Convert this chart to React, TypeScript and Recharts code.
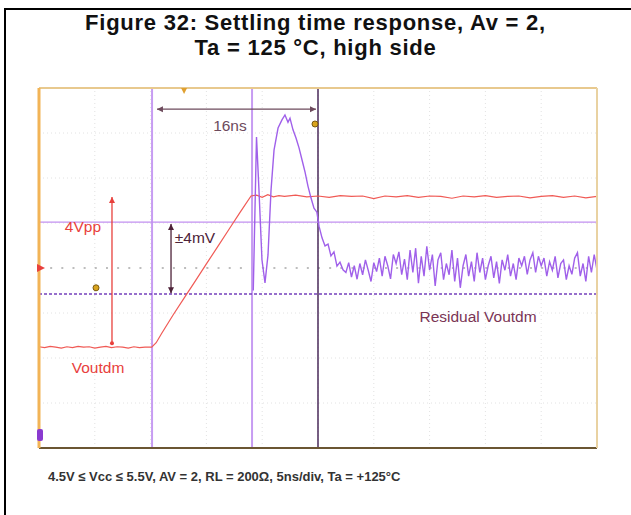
import {
  ComposedChart,
  Line,
  ReferenceDot,
  ReferenceLine,
  XAxis,
  YAxis,
} from "recharts";

// scope screen: 10 horizontal divisions of 5 ns, 8 vertical divisions
const xDomain: [number, number] = [0, 50];
const yDomain: [number, number] = [-4, 4];
const gridX = [5, 10, 15, 20, 25, 30, 35, 40, 45];
const gridY = [-3, -2, -1, 1, 2, 3];
const xMinorTicks = Array.from({ length: 51 }, (_, i) => i);
const yMinorTicks = Array.from({ length: 41 }, (_, i) => -4 + i * 0.2);

// Voutdm (red) trace, [time ns, divisions]
const voutdm: [number, number][] = [
  [0, -1.75], [0.5, -1.77], [1, -1.74], [1.5, -1.76], [2, -1.78], [2.5, -1.75],
  [3, -1.77], [3.5, -1.74], [4, -1.76], [4.5, -1.75], [5, -1.78], [5.5, -1.76],
  [6, -1.74], [6.5, -1.77], [7, -1.75], [7.5, -1.76], [8, -1.78], [8.5, -1.75],
  [9, -1.77], [9.5, -1.76], [10.1, -1.76], [10.5, -1.66], [11, -1.45],
  [12, -1.05], [13, -0.67], [14, -0.29], [15, 0.09], [16, 0.47], [17, 0.85],
  [18, 1.23], [19, 1.6], [19.5, 1.62], [20, 1.57], [20.5, 1.63], [21, 1.58],
  [21.5, 1.61], [22, 1.59], [23, 1.62], [24, 1.58], [25, 1.6], [26, 1.57],
  [27, 1.61], [28, 1.59], [29, 1.6], [30, 1.54], [31, 1.6], [32, 1.58],
  [33, 1.61], [34, 1.57], [35, 1.6], [36, 1.59], [37, 1.55], [38, 1.6],
  [39, 1.58], [40, 1.61], [41, 1.57], [42, 1.59], [43, 1.6], [44, 1.56],
  [45, 1.59], [46, 1.61], [47, 1.57], [48, 1.6], [49, 1.56], [50, 1.59],
];

// Residual Voutdm (purple) trace, [time ns, divisions]
const residual: [number, number][] = [
  [19.2, -0.5], [19.49, 2.91], [19.71, 1.73], [19.98, 0.18], [20.25, -0.33],
  [20.52, 0.29], [20.79, 1.73], [21.06, 2.62], [21.42, 3.11], [21.77, 3.29],
  [22.04, 3.4], [22.31, 3.24], [22.49, 3.33], [22.76, 3.07], [23.03, 2.89],
  [23.3, 2.67], [23.57, 2.4], [23.84, 2.13], [24.1, 1.82], [24.37, 1.56],
  [24.64, 1.33], [24.9, 1.24], [25.09, 0.93], [25.36, 0.67], [25.63, 0.49],
  [25.9, 0.53], [26.16, 0.27], [26.43, 0.36], [26.7, 0.04], [26.97, 0.13],
  [27.24, -0.04], [27.5, -0.1], [27.75, 0.12], [28, -0.2], [28.25, 0.05],
  [28.5, -0.25], [28.75, 0.1], [29, -0.15], [29.25, 0.18], [29.5, -0.05],
  [29.75, -0.3], [30, 0.12], [30.25, -0.08], [30.5, 0.22], [30.75, -0.18],
  [31, 0.26], [31.25, 0.05], [31.5, -0.24], [31.75, 0.3], [32, 0.1],
  [32.25, 0.36], [32.5, -0.15], [32.75, 0.2], [33, -0.26], [33.25, 0.4],
  [33.5, -0.1], [33.75, 0.44], [34, -0.34], [34.25, 0.26], [34.5, -0.18],
  [34.75, 0.48], [35, -0.05], [35.25, 0.3], [35.5, -0.4], [35.75, 0.18],
  [36, 0.34], [36.25, -0.26], [36.5, 0.1], [36.75, -0.15], [37, 0.4],
  [37.25, -0.3], [37.5, 0.22], [37.75, -0.44], [38, 0.05], [38.25, 0.3],
  [38.5, -0.18], [38.75, 0.14], [39, -0.3], [39.25, 0.34], [39.5, -0.1],
  [39.75, 0.22], [40, -0.26], [40.25, 0.05], [40.5, 0.26], [40.75, -0.22],
  [41, 0.14], [41.25, -0.34], [41.5, 0.18], [41.75, -0.05], [42, 0.3],
  [42.25, -0.18], [42.5, 0.1], [42.75, -0.26], [43, 0.22], [43.25, 0.05],
  [43.5, 0.26], [43.75, -0.14], [44, 0.18], [44.25, 0.34], [44.5, -0.1],
  [44.75, 0.26], [45, 0.05], [45.25, 0.22], [45.5, -0.18], [45.75, 0.14],
  [46, -0.05], [46.25, 0.26], [46.5, -0.22], [46.75, 0.1], [47, 0.18],
  [47.25, -0.26], [47.5, 0.05], [47.75, -0.14], [48, 0.22], [48.25, 0.34],
  [48.5, -0.18], [48.75, 0.1], [49, -0.3], [49.25, 0.26], [49.5, -0.1],
  [49.75, 0.3], [50, -0.05],
];

// cursors
const timeCursors = [10.13, 19.09];
const timeRef = 25;
const levelHigh = 1.02;
const levelLow = -0.58;

// annotations: [t, v, text, color]
const labels: [number, number, string, string][] = [
  [3.94, 0.93, "4Vpp", "#e8403c"],
  [13.98, 0.67, "±4mV", "#4d2238"],
  [17.11, 3.16, "16ns", "#6d4a5c"],
  [5.29, -2.22, "Voutdm", "#e8403c"],
  [39.34, -1.07, "Residual Voutdm", "#7a3454"],
];
const markerDots: [number, number][] = [
  [24.73, 3.2],
  [5.11, -0.44],
];

const toRows = (pts: [number, number][]) => pts.map(([t, v]) => ({ t, v }));

function arrowShape(color: string, heads: "end" | "both", tail = false) {
  return (p: any) => {
    const { x1, y1, x2, y2 } = p;
    const a = Math.atan2(y2 - y1, x2 - x1);
    const head = (x: number, y: number, ang: number) => {
      const l = 6;
      const w = 3;
      const bx = x - l * Math.cos(ang);
      const by = y - l * Math.sin(ang);
      const px = -Math.sin(ang) * w;
      const py = Math.cos(ang) * w;
      return `${x},${y} ${bx + px},${by + py} ${bx - px},${by - py}`;
    };
    return (
      <g>
        <line x1={x1} y1={y1} x2={x2} y2={y2} stroke={color} strokeWidth={1.3} />
        <polygon points={head(x2, y2, a)} fill={color} />
        {heads === "both" && <polygon points={head(x1, y1, a + Math.PI)} fill={color} />}
        {tail && <circle cx={x1} cy={y1} r={2} fill={color} />}
      </g>
    );
  };
}

const titleStyle = {
  position: "absolute" as const,
  left: 0,
  width: 631,
  textAlign: "center" as const,
  fontWeight: "bold",
  fontSize: 22,
  letterSpacing: 0.75,
  lineHeight: "25px",
  color: "#111",
};

export default function App() {
  return (
    <div
      style={{
        position: "absolute",
        left: 0,
        top: 0,
        width: 631,
        height: 515,
        overflow: "hidden",
        background: "#fff",
        fontFamily: "'Liberation Sans', Arial, sans-serif",
      }}
    >
      <div
        style={{
          position: "absolute",
          left: 4,
          top: 8,
          width: 627,
          height: 507,
          boxSizing: "border-box",
          borderLeft: "2px solid #000",
          borderTop: "2px solid #000",
        }}
      />
      <div style={{ ...titleStyle, top: 10 }}>Figure 32: Settling time response, Av = 2,</div>
      <div style={{ ...titleStyle, top: 35 }}>Ta = 125 °C, high side</div>

      <div style={{ position: "absolute", left: 0, top: 0 }}>
        <ComposedChart
          width={631}
          height={515}
          margin={{ top: 88, right: 34, bottom: 67, left: 39 }}
        >
          <XAxis
            dataKey="t"
            type="number"
            domain={xDomain}
            ticks={xMinorTicks}
            allowDataOverflow
            mirror
            tick={false}
            tickSize={3}
            tickLine={{ stroke: "#9a8a6a" }}
            axisLine={{ stroke: "#6b5632", strokeWidth: 2 }}
          />
          <XAxis
            xAxisId="top"
            orientation="top"
            dataKey="t"
            type="number"
            domain={xDomain}
            ticks={xMinorTicks}
            mirror
            tick={false}
            tickSize={3}
            tickLine={{ stroke: "#d7b77a" }}
            axisLine={{ stroke: "#e8c98e", strokeWidth: 2 }}
          />
          <YAxis
            type="number"
            domain={yDomain}
            ticks={yMinorTicks}
            allowDataOverflow
            mirror
            tick={false}
            tickSize={3}
            tickLine={{ stroke: "#e0b070" }}
            axisLine={{ stroke: "#f2b457", strokeWidth: 3 }}
          />
          <YAxis
            yAxisId="right"
            orientation="right"
            type="number"
            domain={yDomain}
            ticks={yMinorTicks}
            mirror
            tick={false}
            tickSize={3}
            tickLine={{ stroke: "#d9c39a" }}
            axisLine={{ stroke: "#e9d2a2", strokeWidth: 2 }}
          />

          {gridX.map((x) => (
            <ReferenceLine key={`gx${x}`} x={x} stroke="#e2e2e2" strokeDasharray="1 3" />
          ))}
          {gridY.map((y) => (
            <ReferenceLine key={`gy${y}`} y={y} stroke="#e2e2e2" strokeDasharray="1 3" />
          ))}
          <ReferenceLine y={0} stroke="#a8a8a8" strokeWidth={1.5} strokeDasharray="2 9.16" />

          {timeCursors.map((x) => (
            <ReferenceLine key={`c${x}`} x={x} stroke="#c79cf2" strokeWidth={2} />
          ))}
          <ReferenceLine x={timeRef} stroke="#4a2a5a" strokeWidth={1.5} />
          <ReferenceLine y={levelHigh} stroke="#c290f0" strokeWidth={1.2} />
          <ReferenceLine y={levelLow} stroke="#7440bc" strokeWidth={1.5} strokeDasharray="3 2" />

          <Line
            data={toRows(voutdm)}
            dataKey="v"
            type="linear"
            stroke="#f05a55"
            strokeWidth={1.2}
            dot={false}
            isAnimationActive={false}
          />
          <Line
            data={toRows(residual)}
            dataKey="v"
            type="linear"
            stroke="#a060ea"
            strokeWidth={1.4}
            dot={false}
            isAnimationActive={false}
          />

          <ReferenceLine
            segment={[{ x: 6.54, y: -1.67 }, { x: 6.54, y: 1.58 }]}
            stroke="#e8403c"
            shape={arrowShape("#e8403c", "end", true)}
          />
          <ReferenceLine
            segment={[{ x: 11.83, y: -0.56 }, { x: 11.83, y: 0.98 }]}
            stroke="#4d2238"
            shape={arrowShape("#4d2238", "both")}
          />
          <ReferenceLine
            segment={[{ x: 10.57, y: 3.53 }, { x: 24.82, y: 3.53 }]}
            stroke="#6d4a5c"
            shape={arrowShape("#6d4a5c", "both")}
          />

          {markerDots.map(([x, y]) => (
            <ReferenceDot key={`m${x}`} x={x} y={y} r={3} fill="#d9a41e" stroke="#7a5a10" strokeWidth={1} />
          ))}
          <ReferenceDot
            x={0}
            y={0}
            r={1}
            ifOverflow="visible"
            shape={(p: any) => (
              <polygon
                points={`${p.cx - 2},${p.cy - 4} ${p.cx + 6},${p.cy} ${p.cx - 2},${p.cy + 4}`}
                fill="#e8403c"
              />
            )}
          />
          <ReferenceDot
            x={0}
            y={-3.71}
            r={1}
            ifOverflow="visible"
            shape={(p: any) => (
              <rect x={p.cx - 2} y={p.cy - 6} width={6} height={12} rx={2} fill="#8a3ad0" />
            )}
          />
          <ReferenceDot
            x={13}
            y={4}
            r={1}
            ifOverflow="visible"
            shape={(p: any) => (
              <polygon
                points={`${p.cx - 3},${p.cy} ${p.cx + 3},${p.cy} ${p.cx},${p.cy + 6}`}
                fill="#e0a030"
              />
            )}
          />

          {labels.map(([x, y, text, color]) => (
            <ReferenceDot
              key={text}
              x={x}
              y={y}
              r={1}
              shape={(p: any) => (
                <text
                  x={p.cx}
                  y={p.cy}
                  textAnchor="middle"
                  dominantBaseline="central"
                  fill={color}
                  fontSize={15.5}
                  fontFamily="'Liberation Sans', Arial, sans-serif"
                >
                  {text}
                </text>
              )}
            />
          ))}
        </ComposedChart>
      </div>

      <div
        style={{
          position: "absolute",
          left: 48,
          top: 469,
          fontSize: 13,
          fontWeight: "bold",
          lineHeight: "16px",
          color: "#333",
          whiteSpace: "nowrap",
        }}
      >
        4.5V ≤ Vcc ≤ 5.5V, AV = 2, RL = 200Ω, 5ns/div, Ta = +125°C
      </div>
    </div>
  );
}
